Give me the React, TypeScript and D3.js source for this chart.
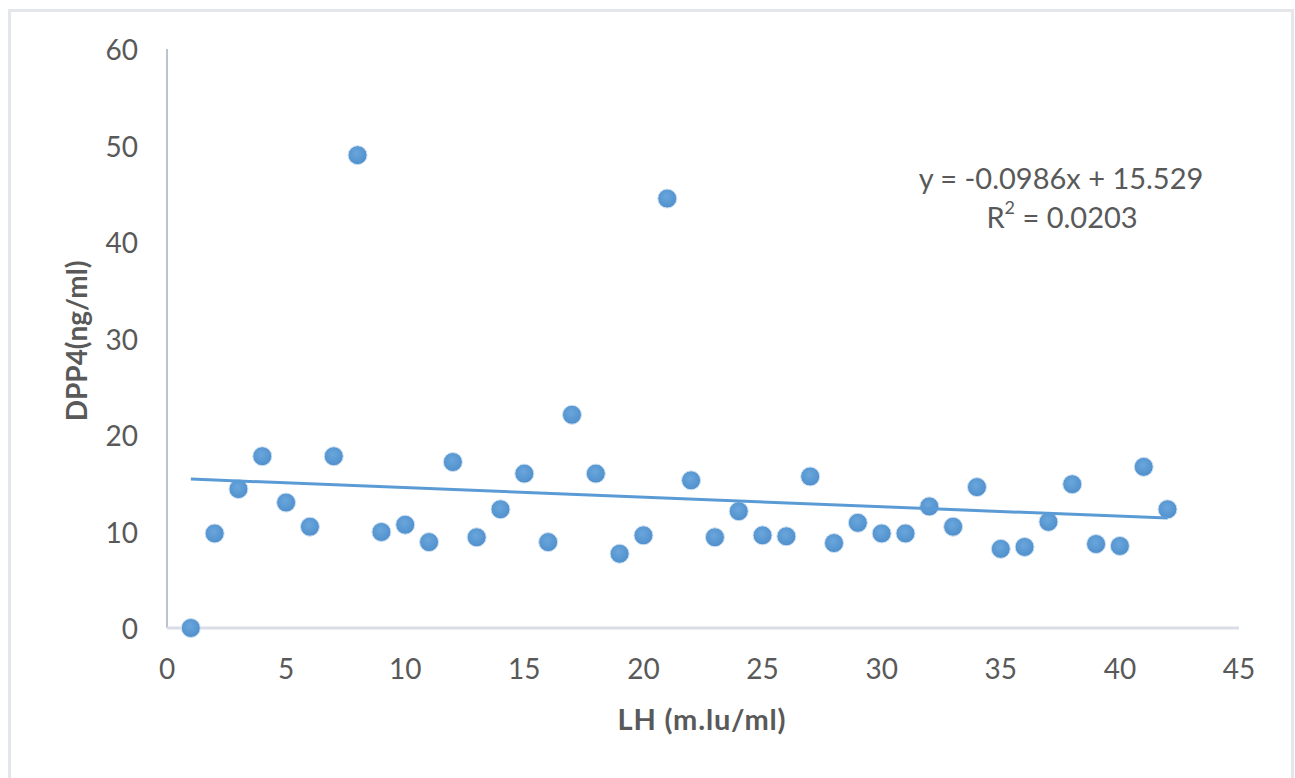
import React from "react";
import * as d3 from "d3";

// LH values (x) and DPP4 values (y)
const lhValues = [
  1, 2, 3, 4, 5, 6, 7, 8, 9, 10, 11, 12, 13, 14, 15, 16, 17, 18, 19, 20, 21,
  22, 23, 24, 25, 26, 27, 28, 29, 30, 31, 32, 33, 34, 35, 36, 37, 38, 39, 40,
  41, 42,
];
const dppValues = [
  0, 9.8, 14.4, 17.8, 13.0, 10.5, 17.8, 49.0, 9.95, 10.7, 8.9, 17.2, 9.4, 12.3,
  16.0, 8.9, 22.1, 16.0, 7.7, 9.6, 44.5, 15.3, 9.4, 12.1, 9.6, 9.5, 15.7, 8.8,
  10.9, 9.8, 9.8, 12.6, 10.5, 14.6, 8.2, 8.4, 11.0, 14.9, 8.7, 8.5, 16.7, 12.3,
];
const xTicks = [0, 5, 10, 15, 20, 25, 30, 35, 40, 45];
const yTicks = [0, 10, 20, 30, 40, 50, 60];
const trendSlope = -0.0986;
const trendIntercept = 15.529;
const equationText = "y = -0.0986x + 15.529";
const r2Text = "0.0203";

const W = 1295;
const H = 778;

export default function App() {
  const x = d3.scaleLinear().domain([0, 45]).range([167, 1239]);
  const y = d3.scaleLinear().domain([0, 60]).range([628, 49]);

  const xMin = d3.min(lhValues) as number;
  const xMax = d3.max(lhValues) as number;
  const trend = d3
    .line<number>()
    .x((d) => x(d))
    .y((d) => y(trendSlope * d + trendIntercept));

  const font = "Lato, 'Open Sans', sans-serif";
  const textColor = "#595959";

  return (
    <svg
      width={W}
      height={H}
      style={{ position: "absolute", left: 0, top: 0, background: "#fff" }}
      fontFamily={font}
    >
      <defs>
        <radialGradient id="dot" cx="45%" cy="40%" r="60%">
          <stop offset="0%" stopColor="#6aa6dc" />
          <stop offset="100%" stopColor="#4f8fcc" />
        </radialGradient>
      </defs>
      <rect
        x={9.5}
        y={10.5}
        width={1283}
        height={790}
        fill="#fff"
        stroke="#e3e6ea"
        strokeWidth={3}
      />

      {/* axes */}
      <line x1={x(0)} x2={x(0)} y1={y(60)} y2={y(0)} stroke="#b9c3d1" strokeWidth={2} />
      <line x1={x(0)} x2={x(45)} y1={y(0)} y2={y(0)} stroke="#d9dee6" strokeWidth={3} />

      {yTicks.map((t) => (
        <text
          key={"y" + t}
          x={138}
          y={y(t)}
          textAnchor="end"
          dominantBaseline="central"
          fontSize={28}
          fill={textColor}
        >
          {t}
        </text>
      ))}
      {xTicks.map((t) => (
        <text
          key={"x" + t}
          x={x(t)}
          y={668}
          textAnchor="middle"
          dominantBaseline="central"
          fontSize={28}
          fill={textColor}
        >
          {t}
        </text>
      ))}

      {/* axis titles */}
      <text
        x={702}
        y={718}
        textAnchor="middle"
        dominantBaseline="central"
        fontSize={29}
        letterSpacing={0.8}
        fontWeight="bold"
        fill={textColor}
      >
        LH (m.lu/ml)
      </text>
      <text
        transform={`translate(76,341) rotate(-90)`}
        textAnchor="middle"
        dominantBaseline="central"
        fontSize={28}
        fontWeight="bold"
        fill={textColor}
      >
        DPP4(ng/ml)
      </text>

      {/* points */}
      {lhValues.map((v, i) => (
        <circle
          key={i}
          cx={x(v)}
          cy={y(dppValues[i])}
          r={9.5}
          fill="url(#dot)"
          stroke="#cfe1f3"
          strokeWidth={1}
        />
      ))}

      {/* linear trendline */}
      <path
        d={trend([xMin, xMax]) || ""}
        fill="none"
        stroke="#5b9bd5"
        strokeWidth={3}
      />

      {/* equation */}
      <text
        x={1061}
        y={177}
        textAnchor="middle"
        dominantBaseline="central"
        fontSize={29}
        fill={textColor}
      >
        {equationText}
      </text>
      <text
        x={1062}
        y={216}
        textAnchor="middle"
        dominantBaseline="central"
        fontSize={29}
        fill={textColor}
      >
        R<tspan fontSize={18} dy={-9}>2</tspan>
        <tspan dy={9}> = {r2Text}</tspan>
      </text>
    </svg>
  );
}
